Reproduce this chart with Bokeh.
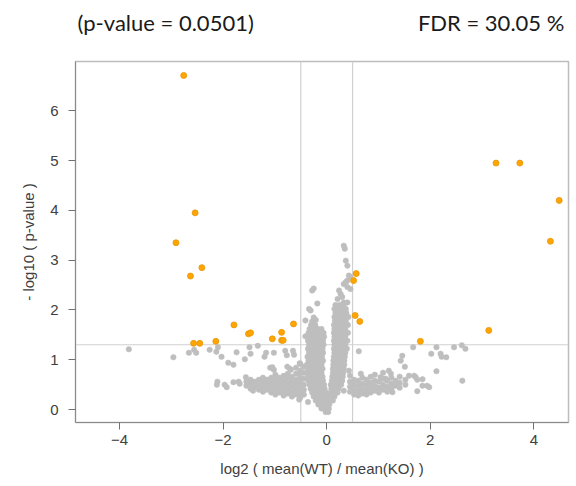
from bokeh.plotting import figure
from bokeh.models import Span, FixedTicker, Range1d
from bokeh.layouts import column
from bokeh.core.properties import value
from bokeh.embed import file_html
from bokeh.resources import INLINE

# ---------------- data ----------------
title_left = "(p-value = 0.0501)"
title_right = "FDR = 30.05 %"
x_label = "log2 ( mean(WT) / mean(KO) )"
y_label = "- log10 ( p-value )"
x_ticks = [-4, -2, 0, 2, 4]
y_ticks = [0, 1, 2, 3, 4, 5, 6]
fc_cut = [-0.5, 0.5]
p_cut = 1.301  # -log10(0.05)

# significant proteins (orange)
sig_points = [
    (-2.76, 6.71), (-2.54, 3.95), (-2.91, 3.35), (-2.41, 2.85), (-2.63, 2.68),
    (-1.79, 1.70), (-1.51, 1.52), (-1.47, 1.54), (-1.05, 1.42), (-0.87, 1.55),
    (-0.87, 1.39), (-0.84, 1.39), (-0.64, 1.72), (-2.57, 1.33), (-2.45, 1.33),
    (-2.14, 1.37),
    (3.27, 4.95), (3.73, 4.95), (4.49, 4.20), (4.32, 3.38), (0.57, 2.73),
    (0.52, 2.59), (0.55, 1.89), (0.64, 1.77), (3.13, 1.59), (1.81, 1.37),
]

# dense left lobe of the V
lobe_left = [
    (-0.30, 1.70), (-0.22, 1.70),
    (-0.33, 1.62), (-0.25, 1.62), (-0.17, 1.62), (-0.10, 1.62),
    (-0.35, 1.54), (-0.27, 1.54), (-0.19, 1.54), (-0.12, 1.54), (-0.06, 1.54),
    (-0.33, 1.46), (-0.25, 1.46), (-0.18, 1.46), (-0.11, 1.46), (-0.05, 1.46),
    (-0.36, 1.38), (-0.28, 1.38), (-0.21, 1.38), (-0.14, 1.38), (-0.07, 1.38),
    (-0.34, 1.30), (-0.26, 1.30), (-0.19, 1.30), (-0.12, 1.30), (-0.06, 1.30),
    (-0.36, 1.22), (-0.29, 1.22), (-0.22, 1.22), (-0.15, 1.22), (-0.08, 1.22),
    (-0.34, 1.14), (-0.27, 1.14), (-0.20, 1.14), (-0.13, 1.14), (-0.07, 1.14),
    (-0.37, 1.06), (-0.30, 1.06), (-0.23, 1.06), (-0.16, 1.06), (-0.09, 1.06),
    (-0.35, 0.98), (-0.28, 0.98), (-0.21, 0.98), (-0.14, 0.98), (-0.07, 0.98),
    (-0.38, 0.90), (-0.31, 0.90), (-0.24, 0.90), (-0.17, 0.90), (-0.10, 0.90),
    (-0.36, 0.82), (-0.29, 0.82), (-0.22, 0.82), (-0.15, 0.82), (-0.08, 0.82),
    (-0.38, 0.74), (-0.31, 0.74), (-0.24, 0.74), (-0.17, 0.74), (-0.10, 0.74),
    (-0.36, 0.66), (-0.29, 0.66), (-0.22, 0.66), (-0.15, 0.66), (-0.08, 0.66),
    (-0.35, 0.58), (-0.28, 0.58), (-0.21, 0.58), (-0.14, 0.58), (-0.07, 0.58),
    (-0.33, 0.50), (-0.26, 0.50), (-0.19, 0.50), (-0.12, 0.50), (-0.05, 0.50),
    (-0.31, 0.42), (-0.24, 0.42), (-0.17, 0.42), (-0.10, 0.42), (-0.04, 0.42),
    (-0.28, 0.34), (-0.21, 0.34), (-0.14, 0.34), (-0.07, 0.34), (-0.01, 0.34),
    (-0.25, 0.26), (-0.18, 0.26), (-0.11, 0.26), (-0.04, 0.26), (0.02, 0.26),
    (-0.21, 0.18), (-0.14, 0.18), (-0.07, 0.18), (0.00, 0.18), (0.06, 0.18),
    (-0.16, 0.10), (-0.09, 0.10), (-0.02, 0.10), (0.05, 0.10),
    (-0.10, 0.02), (-0.03, 0.02), (0.04, 0.02),
    (-0.02, -0.05), (0.03, -0.05),
]

# dense right lobe of the V
lobe_right = [
    (0.17, 2.10), (0.25, 2.10), (0.33, 2.10),
    (0.15, 2.02), (0.22, 2.02), (0.29, 2.02), (0.37, 2.02),
    (0.17, 1.94), (0.24, 1.94), (0.31, 1.94), (0.38, 1.94),
    (0.15, 1.86), (0.22, 1.86), (0.29, 1.86), (0.36, 1.86), (0.42, 1.86),
    (0.16, 1.78), (0.23, 1.78), (0.30, 1.78), (0.37, 1.78),
    (0.14, 1.70), (0.21, 1.70), (0.28, 1.70), (0.35, 1.70), (0.41, 1.70),
    (0.15, 1.62), (0.22, 1.62), (0.29, 1.62), (0.36, 1.62),
    (0.14, 1.54), (0.21, 1.54), (0.28, 1.54), (0.35, 1.54), (0.41, 1.54),
    (0.15, 1.46), (0.22, 1.46), (0.29, 1.46), (0.36, 1.46),
    (0.14, 1.38), (0.21, 1.38), (0.28, 1.38), (0.35, 1.38), (0.40, 1.38),
    (0.15, 1.30), (0.22, 1.30), (0.29, 1.30), (0.36, 1.30),
    (0.14, 1.22), (0.21, 1.22), (0.28, 1.22), (0.35, 1.22), (0.39, 1.22),
    (0.15, 1.14), (0.22, 1.14), (0.29, 1.14), (0.36, 1.14),
    (0.14, 1.06), (0.21, 1.06), (0.28, 1.06), (0.35, 1.06),
    (0.13, 0.98), (0.20, 0.98), (0.27, 0.98), (0.34, 0.98),
    (0.13, 0.90), (0.20, 0.90), (0.27, 0.90), (0.34, 0.90),
    (0.12, 0.82), (0.19, 0.82), (0.26, 0.82), (0.33, 0.82),
    (0.12, 0.74), (0.19, 0.74), (0.26, 0.74), (0.32, 0.74),
    (0.11, 0.66), (0.18, 0.66), (0.25, 0.66), (0.31, 0.66),
    (0.10, 0.58), (0.17, 0.58), (0.24, 0.58), (0.30, 0.58),
    (0.08, 0.50), (0.15, 0.50), (0.22, 0.50), (0.28, 0.50),
    (0.09, 0.42), (0.16, 0.42), (0.23, 0.42),
    (0.08, 0.34), (0.15, 0.34), (0.21, 0.34),
    (0.09, 0.26), (0.15, 0.26),
    (0.12, 0.18),
]

# left low band (wing)
wing_left = [
    (-1.55, 0.48), (-1.55, 0.56),
    (-1.47, 0.42), (-1.47, 0.52), (-1.47, 0.60),
    (-1.39, 0.46), (-1.39, 0.56),
    (-1.31, 0.40), (-1.31, 0.50), (-1.31, 0.60),
    (-1.23, 0.36), (-1.23, 0.46), (-1.23, 0.55), (-1.23, 0.64),
    (-1.15, 0.40), (-1.15, 0.50), (-1.15, 0.60),
    (-1.07, 0.34), (-1.07, 0.44), (-1.07, 0.54), (-1.07, 0.64),
    (-0.99, 0.30), (-0.99, 0.40), (-0.99, 0.50), (-0.99, 0.60), (-0.99, 0.70),
    (-0.91, 0.34), (-0.91, 0.44), (-0.91, 0.54), (-0.91, 0.64),
    (-0.83, 0.28), (-0.83, 0.38), (-0.83, 0.48), (-0.83, 0.58), (-0.83, 0.68),
    (-0.75, 0.32), (-0.75, 0.42), (-0.75, 0.52), (-0.75, 0.62), (-0.75, 0.72),
    (-0.67, 0.26), (-0.67, 0.36), (-0.67, 0.46), (-0.67, 0.56), (-0.67, 0.66),
    (-0.59, 0.30), (-0.59, 0.40), (-0.59, 0.50), (-0.59, 0.60), (-0.59, 0.72), (-0.59, 0.84),
    (-0.51, 0.24), (-0.51, 0.34), (-0.51, 0.44), (-0.51, 0.54), (-0.51, 0.64), (-0.51, 0.78), (-0.51, 0.92),
    (-0.44, 0.30), (-0.44, 0.40), (-0.44, 0.50), (-0.44, 0.62), (-0.44, 0.74), (-0.44, 0.86),
]

# right low band (wing)
wing_right = [
    (0.45, 0.36), (0.45, 0.46), (0.45, 0.56), (0.45, 0.68),
    (0.53, 0.30), (0.53, 0.40), (0.53, 0.50), (0.53, 0.60),
    (0.61, 0.28), (0.61, 0.38), (0.61, 0.48), (0.61, 0.58),
    (0.69, 0.32), (0.69, 0.42), (0.69, 0.52), (0.69, 0.64),
    (0.77, 0.30), (0.77, 0.40), (0.77, 0.50), (0.77, 0.60),
    (0.85, 0.34), (0.85, 0.44), (0.85, 0.54), (0.85, 0.66),
    (0.93, 0.38), (0.93, 0.48), (0.93, 0.58), (0.93, 0.70),
    (1.01, 0.34), (1.01, 0.44), (1.01, 0.56),
    (1.09, 0.40), (1.09, 0.50), (1.09, 0.62), (1.09, 0.74),
    (1.17, 0.36), (1.17, 0.46), (1.17, 0.58),
    (1.25, 0.42), (1.25, 0.52), (1.25, 0.64),
    (1.33, 0.48), (1.33, 0.58),
    (1.41, 0.44), (1.41, 0.54), (1.41, 0.66),
    (1.52, 0.50), (1.52, 0.60),
]

# scattered non-significant proteins
sparse = [
    (-3.82, 1.21), (-2.96, 1.05), (-2.66, 1.14), (-2.56, 1.20), (-2.52, 1.14),
    (-2.26, 1.20), (-2.13, 1.16), (-2.10, 1.25), (-2.03, 1.06), (-1.90, 0.94),
    (-1.80, 0.90), (-1.74, 1.15), (-1.58, 1.01), (-1.49, 1.25), (-1.47, 1.12),
    (-1.33, 1.28), (-1.20, 1.06), (-1.17, 1.14), (-1.09, 0.84), (-1.02, 0.80),
    (-1.02, 1.14), (-0.80, 1.18), (-0.77, 1.09), (-0.71, 0.82), (-0.65, 1.18),
    (-0.63, 1.10), (-0.52, 0.93), (-0.41, 1.47), (-2.11, 0.56), (-2.12, 0.50),
    (-1.97, 0.50), (-1.93, 0.45), (-1.80, 0.55), (-1.70, 0.56), (-1.68, 0.52),
    (-1.42, 0.38), (-0.36, 0.15), (-0.53, 0.20), (-0.52, 0.72), (-1.56, 0.65),
    (-1.05, 0.85), (-0.76, 0.86), (-0.69, 0.80),
    (-0.28, 2.39), (-0.25, 2.43), (-0.18, 2.13), (-0.34, 2.02), (-0.31, 1.99),
    (-0.25, 1.85), (-0.21, 1.80), (-0.28, 1.77), (-0.41, 1.79),
    (0.33, 3.29), (0.35, 3.23), (0.37, 2.99), (0.40, 2.89), (0.43, 2.69),
    (0.46, 2.66), (0.40, 2.59), (0.37, 2.56), (0.33, 2.52), (0.40, 2.46),
    (0.46, 2.42), (0.24, 2.39), (0.27, 2.32), (0.30, 2.26), (0.21, 2.22),
    (0.33, 2.15), (0.40, 2.15),
    (0.62, 1.17), (0.66, 0.72), (0.43, 0.78), (0.33, 0.38),
    (1.27, 0.35), (1.59, 0.68), (1.69, 0.68), (1.72, 0.65), (1.75, 0.60),
    (1.85, 0.61), (1.85, 0.48), (1.94, 0.48), (1.98, 0.45), (1.75, 0.37),
    (1.20, 0.78), (1.24, 0.72), (1.04, 0.65), (1.14, 0.62),
    (2.12, 0.77), (2.62, 0.58), (1.46, 1.08), (1.43, 0.98), (1.51, 0.86),
    (1.67, 1.25), (2.02, 1.12), (2.12, 1.25), (2.20, 1.12), (2.22, 1.06),
    (2.31, 1.05), (2.46, 1.25), (2.61, 1.29), (2.68, 1.22),
]

# ---------------- figures ----------------
gray_pts = lobe_left + lobe_right + wing_left + wing_right + sparse
gray_x = [pt[0] for pt in gray_pts]
gray_y = [pt[1] for pt in gray_pts]
sig_x = [pt[0] for pt in sig_points]
sig_y = [pt[1] for pt in sig_points]

X0, X1 = -4.85, 4.67
W = 570
HEAD_H = 44

# header strip with the two annotation texts
head = figure(width=W, height=HEAD_H, output_backend="svg", toolbar_location=None,
              x_range=Range1d(X0, X1), y_range=Range1d(0, 1),
              x_axis_location=None, y_axis_location=None,
              min_border_left=75, min_border_right=2, min_border_top=0,
              min_border_bottom=0)
head.grid.visible = False
head.outline_line_color = None
head.text(x=[X0 + 0.04], y=[0.5], text=[title_left], text_font=value("Lato"),
          text_font_size="22px", text_color="#1A1A1A", text_align="left",
          text_baseline="middle")
head.text(x=[4.59], y=[0.5], text=[title_right], text_font=value("Lato"),
          text_font_size="22px", text_color="#1A1A1A", text_align="right",
          text_baseline="middle")

p = figure(width=W, height=480 - HEAD_H, output_backend="svg", toolbar_location=None,
           x_range=Range1d(X0, X1), y_range=Range1d(-0.26, 6.99),
           min_border_left=75, min_border_right=2, min_border_top=61 - HEAD_H,
           min_border_bottom=58)
p.background_fill_color = "white"
p.border_fill_color = "white"
p.outline_line_color = "#BDBDBD"
p.outline_line_width = 1.5
p.xgrid.visible = False
p.ygrid.visible = False

for xv in fc_cut:
    p.add_layout(Span(location=xv, dimension="height", line_color="#D0D0D0",
                      line_width=1.2, level="underlay"))
p.add_layout(Span(location=p_cut, dimension="width", line_color="#D0D0D0",
                  line_width=1.2, level="underlay"))

p.scatter(gray_x, gray_y, size=5.5, fill_color="#BEBEBE", line_color="#BEBEBE",
          line_width=0.5)
p.scatter(sig_x, sig_y, size=6, fill_color="#FFA500", line_color="#E8960A",
          line_width=0.8)

for ax, ticks in ((p.xaxis[0], x_ticks), (p.yaxis[0], y_ticks)):
    ax.ticker = FixedTicker(ticks=ticks)
    ax.major_tick_in = 0
    ax.major_tick_out = 7
    ax.minor_tick_line_color = None
    ax.major_tick_line_color = "#707070"
    ax.axis_line_color = "#8A8A8A"
    ax.major_label_text_font = "Liberation Sans"
    ax.major_label_text_font_size = "15px"
    ax.major_label_text_color = "#404040"
    ax.axis_label_text_font = "Liberation Sans"
    ax.axis_label_text_font_size = "15px"
    ax.axis_label_text_font_style = "normal"
    ax.axis_label_text_color = "#404040"

p.xaxis.axis_label = x_label
p.yaxis.axis_label = y_label
p.xaxis.major_label_standoff = 5
p.xaxis.axis_label_standoff = 12
p.yaxis.major_label_standoff = 10
p.yaxis.major_label_orientation = "horizontal"
p.yaxis.axis_label_standoff = 10

layout = column(head, p, spacing=0)
open("out.html", "w").write(file_html(layout, INLINE))
